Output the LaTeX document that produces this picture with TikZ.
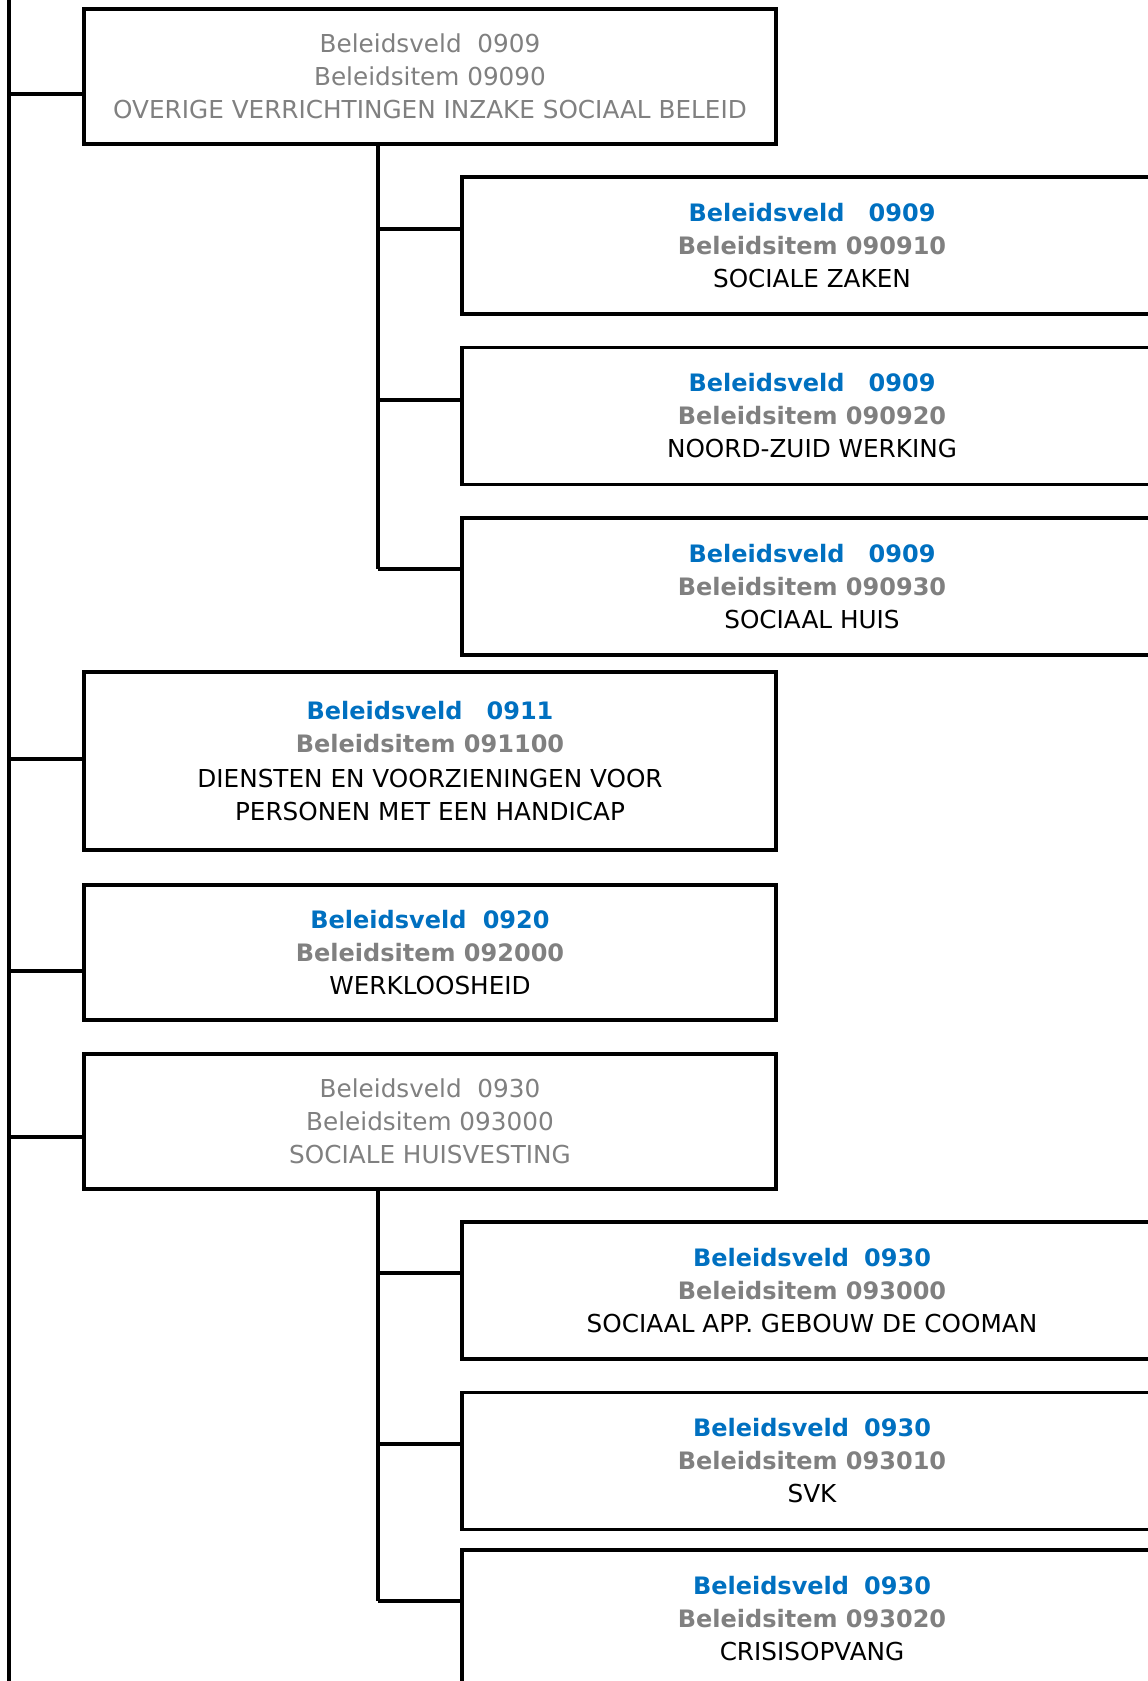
\documentclass[tikz,border=0pt]{standalone}
\usepackage{fontspec}
\setmainfont{DejaVu Sans}
\definecolor{veldblue}{HTML}{0070C0}
\definecolor{itemgray}{HTML}{808080}
\newcommand{\veld}[1]{{\fontsize{24}{33}\selectfont\bfseries\color{veldblue}#1}}
\newcommand{\posnr}[1]{{\fontsize{24}{33}\selectfont\bfseries\color{itemgray}#1}}
\tikzset{
  mainbox/.style={draw, line width=3.5pt, minimum width=692pt, minimum height=135pt,
    align=center, inner sep=0pt, font=\fontsize{24.7}{33}\selectfont},
  subbox/.style={mainbox, minimum width=700pt, minimum height=137pt},
  link/.style={line width=3.5pt},
}
\begin{document}
\begin{tikzpicture}[x=1pt,y=-1pt]
      \useasboundingbox (0,0) rectangle (1148,1681);
      \clip (0,0) rectangle (1148,1681);
      \draw
        (430,76.5) node[mainbox,text=itemgray] (b0909)
          {Beleidsveld\ \ 0909\\Beleidsitem 09090\\OVERIGE VERRICHTINGEN INZAKE SOCIAAL BELEID}
        (812,245.5) node[subbox] (b090910)
          {\veld{Beleidsveld\hspace{1em}0909}\\\posnr{Beleidsitem 090910}\\SOCIALE ZAKEN}
        (812,416) node[subbox] (b090920)
          {\veld{Beleidsveld\hspace{1em}0909}\\\posnr{Beleidsitem 090920}\\NOORD-ZUID WERKING}
        (812,586.5) node[subbox] (b090930)
          {\veld{Beleidsveld\hspace{1em}0909}\\\posnr{Beleidsitem 090930}\\SOCIAAL HUIS}
        (430,761) node[mainbox,minimum height=178pt] (b091100)
          {\veld{Beleidsveld\hspace{1em}0911}\\\posnr{Beleidsitem 091100}\\[2pt]DIENSTEN EN VOORZIENINGEN VOOR\\PERSONEN MET EEN HANDICAP}
        (430,952.5) node[mainbox] (b092000)
          {\veld{Beleidsveld\hspace{0.68em}0920}\\\posnr{Beleidsitem 092000}\\WERKLOOSHEID}
        (430,1121.5) node[mainbox,text=itemgray] (b0930)
          {Beleidsveld\ \ 0930\\Beleidsitem 093000\\SOCIALE HUISVESTING}
        (812,1290.5) node[subbox] (b093000)
          {\veld{Beleidsveld\hspace{0.63em}0930}\\\posnr{Beleidsitem 093000}\\SOCIAAL APP. GEBOUW DE COOMAN}
        (812,1461) node[subbox] (b093010)
          {\veld{Beleidsveld\hspace{0.63em}0930}\\\posnr{Beleidsitem 093010}\\SVK}
        (812,1618.5) node[subbox] (b093020)
          {\veld{Beleidsveld\hspace{0.63em}0930}\\\posnr{Beleidsitem 093020}\\CRISISOPVANG};
      \coordinate (top) at (9,0);
      \coordinate (bottom) at (9,1681);
      \coordinate (j1) at (9,94);
      \coordinate (j2) at (9,759);
      \coordinate (j3) at (9,971);
      \coordinate (j4) at (9,1137);
      \coordinate (k1) at (378,229);
      \coordinate (k2) at (378,400);
      \coordinate (k3) at (378,569);
      \coordinate (k4) at (378,1273);
      \coordinate (k5) at (378,1444);
      \coordinate (k6) at (378,1601);
      \begin{scope}[link]
        \draw[line width=4.5pt] (top) to (bottom);
        \draw (j1) to (j1 -| b0909.west);
        \draw (j2) to (j2 -| b091100.west);
        \draw (j3) to (j3 -| b092000.west);
        \draw (j4) to (j4 -| b0930.west);
        \draw (b0909.south -| k1) to (k3);
        \draw (k1) to (k1 -| b090910.west);
        \draw (k2) to (k2 -| b090920.west);
        \draw (k3) to (k3 -| b090930.west);
        \draw (b0930.south -| k4) to (k6);
        \draw (k4) to (k4 -| b093000.west);
        \draw (k5) to (k5 -| b093010.west);
        \draw (k6) to (k6 -| b093020.west);
      \end{scope}
    \end{tikzpicture}
\end{document}
